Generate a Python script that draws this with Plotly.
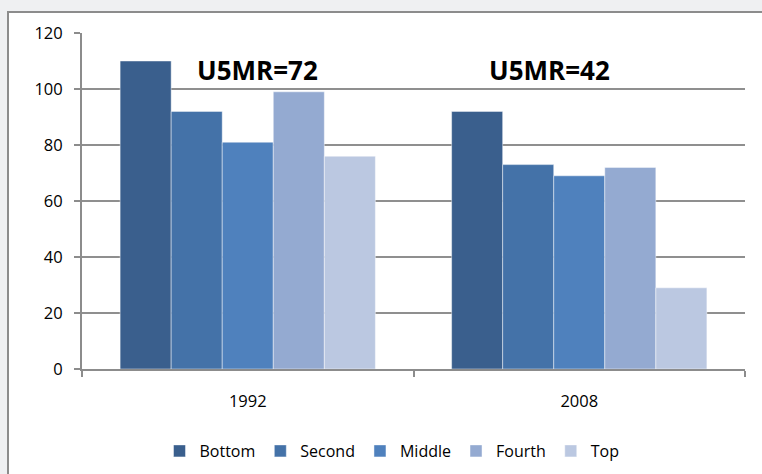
import plotly.graph_objects as go

years = ["1992", "2008"]
quintiles = ["Bottom", "Second", "Middle", "Fourth", "Top"]
bottom = [110, 92]
second = [92, 73]
middle = [81, 69]
fourth = [99, 72]
top = [76, 29]
series = [bottom, second, middle, fourth, top]
colors = ["#3a5f8d", "#4472a8", "#4f81bd", "#94aad1", "#bbc8e1"]
u5mr_labels = ["U5MR=72", "U5MR=42"]

W, H = 762, 474
fig = go.Figure()
for name, vals, col in zip(quintiles, series, colors):
    fig.add_trace(go.Bar(x=years, y=[float(v) for v in vals], name=name,
                         marker=dict(color=col, line=dict(color="rgba(255,255,255,0.45)", width=1))))

font = "Open Sans, Liberation Sans, sans-serif"
fig.update_layout(
    width=W, height=H,
    margin=dict(l=0, r=0, t=0, b=0, autoexpand=False),
    paper_bgcolor="#eff0f2",
    plot_bgcolor="white",
    barmode="group",
    bargap=0.23,
    bargroupgap=0,
    font=dict(family=font, size=14, color="black"),
    legend=dict(orientation="h", x=392 / W, xanchor="center", y=(H - 451) / H, yanchor="middle",
                font=dict(size=16), bgcolor="rgba(0,0,0,0)"),
    xaxis=dict(type="category", range=[-0.5, 1.5], domain=[82 / W, 745 / W], showgrid=False,
               tickson="boundaries",
               ticks="outside", ticklen=6, tickwidth=2, tickcolor="#8c8c8c",
               showline=True, linecolor="#8c8c8c", linewidth=2,
               tickfont=dict(size=16.5), ticklabelstandoff=16),
    yaxis=dict(domain=[(H - 369) / H, (H - 33) / H], range=[0, 120], dtick=20,
               showgrid=True, gridcolor="#8f8f8f", gridwidth=2,
               ticks="outside", ticklen=6, tickwidth=2, tickcolor="#8c8c8c",
               showline=True, linecolor="#8c8c8c", linewidth=2,
               zeroline=False, tickfont=dict(size=16.5), ticklabelstandoff=8),
    shapes=[dict(type="rect", xref="paper", yref="paper", x0=8 / W, x1=1.02, y0=-0.02, y1=1 - 12 / H,
                 fillcolor="white", line=dict(color="#8c8c8c", width=2), layer="below")],
)
label_offsets = [0.03, -0.09]
for i, (lab, off) in enumerate(zip(u5mr_labels, label_offsets)):
    fig.add_annotation(x=i + off, y=106.8, xref="x", yref="y", text="<b>" + lab + "</b>",
                       showarrow=False, font=dict(size=26, family=font, color="black"))

fig.write_html("out.html", config={"displayModeBar": False},
               post_script="document.body.style.margin='0px';document.body.style.overflow='hidden';")
